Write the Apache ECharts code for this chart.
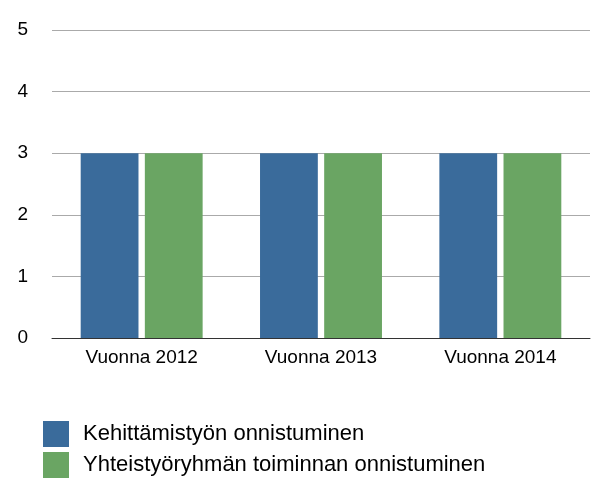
<!DOCTYPE html>
<html><head><meta charset="utf-8">
<script src="https://cdn.jsdelivr.net/npm/echarts@6/dist/echarts.min.js"></script>
<style>html,body{margin:0;background:#fff}#c{width:608px;height:491px}</style>
</head><body><div id="c"></div>
<script>
var categories = ['Vuonna 2012', 'Vuonna 2013', 'Vuonna 2014'];
var seriesNames = ['Kehittämistyön onnistuminen', 'Yhteistyöryhmän toiminnan onnistuminen'];
var kehittamistyo = [3, 3, 3];
var yhteistyo = [3, 3, 3];

var chart = echarts.init(document.getElementById('c'));
chart.setOption({
    animation: false,
    textStyle: { fontFamily: 'Liberation Sans' },
    grid: { left: 52, right: 18, top: 30, bottom: 153 },
    legend: {
        orient: 'vertical', left: 38, top: 416, itemWidth: 26, itemHeight: 26, itemGap: 5,
        icon: 'rect',
        textStyle: { fontSize: 22, color: '#000', padding: [0, 0, 0, 9] },
        data: seriesNames
    },
    xAxis: {
        type: 'category', data: categories,
        axisTick: { show: false },
        axisLine: { lineStyle: { color: '#333', width: 1 } },
        axisLabel: { fontSize: 19, color: '#000', margin: 10 }
    },
    yAxis: {
        type: 'value', min: 0, max: 5, interval: 1,
        axisLabel: { fontSize: 19, color: '#000', margin: 24, align: 'right' },
        splitLine: { lineStyle: { color: '#aaa' } }
    },
    series: [
        { name: seriesNames[0], type: 'bar', data: kehittamistyo, itemStyle: { color: '#3a6b9b' }, barGap: '11%', barCategoryGap: '32%' },
        { name: seriesNames[1], type: 'bar', data: yhteistyo, itemStyle: { color: '#6aa563' } }
    ]
});
</script></body></html>
